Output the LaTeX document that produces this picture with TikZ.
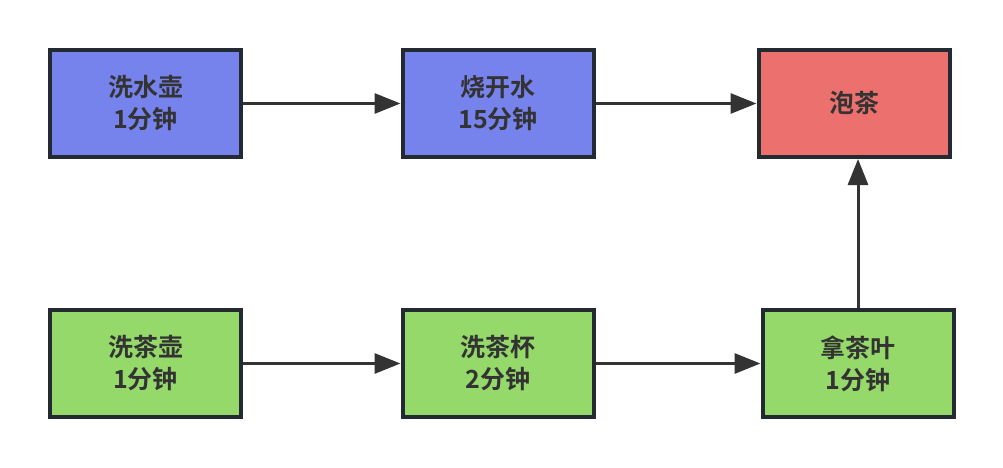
\documentclass[tikz,border=0pt]{standalone}
\usepackage{fontspec}
\setmainfont{Noto Sans CJK SC}[BoldFont={Noto Sans CJK SC Bold}]
\usetikzlibrary{arrows.meta}
\definecolor{bluefill}{HTML}{7783EC}
\definecolor{greenfill}{HTML}{95D96A}
\definecolor{redfill}{HTML}{EC716E}
\definecolor{edge}{HTML}{232A31}
\definecolor{txt}{HTML}{333333}
\tikzset{
  box/.style={draw=edge,line width=4pt,minimum width=191pt,minimum height=107pt,inner sep=0pt,
    align=center,text=txt,font=\fontsize{25pt}{32pt}\selectfont\bfseries},
  conn/.style={draw=txt,line width=3pt,-{Triangle[length=26pt,width=20pt]}}
}
\begin{document}
\begin{tikzpicture}[x=1pt,y=-1pt]
\useasboundingbox (0,0) rectangle (1003,468);
\node[box,fill=bluefill] (a) at (145.5,103.5) {洗水壶\\1分钟};
\node[box,fill=bluefill] (b) at (498,103.5) {烧开水\\15分钟};
\node[box,fill=redfill] (c) at (854,103.5) {泡茶};
\node[box,fill=greenfill] (d) at (145.5,363.5) {洗茶壶\\1分钟};
\node[box,fill=greenfill] (e) at (498,363.5) {洗茶杯\\2分钟};
\node[box,fill=greenfill] (f) at (858,363.5) {拿茶叶\\1分钟};
\draw[conn] (a.east) -- (b.west);
\draw[conn] (b.east) -- (c.west);
\draw[conn] (d.east) -- (e.west);
\draw[conn] (e.east) -- (f.west);
\draw[conn] (f.north) -- (f.north |- c.south);
\end{tikzpicture}
\end{document}
